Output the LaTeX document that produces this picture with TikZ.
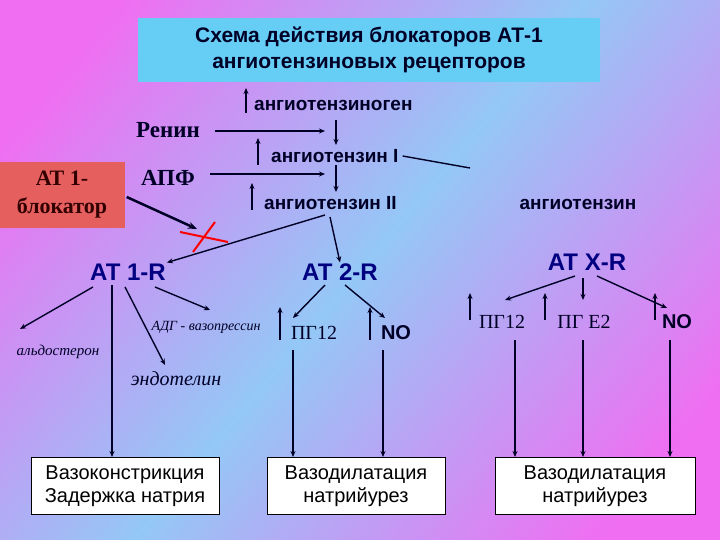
\documentclass[tikz,border=0pt]{standalone}
\usepackage{fontspec}
\setmainfont{Liberation Serif}
\setsansfont{Liberation Sans}
\usetikzlibrary{arrows.meta}
\definecolor{bgp}{HTML}{F06EF2}
\definecolor{bgb}{HTML}{94C8F6}
\pgfdeclareverticalshading{bgsh}{100bp}{color(0bp)=(bgp); color(22bp)=(bgp); color(50bp)=(bgb); color(78bp)=(bgp); color(100bp)=(bgp)}
\begin{document}
\begin{tikzpicture}[x=1pt,y=-1pt,
  ar/.style={-{Stealth[length=6pt,width=5pt]},line width=1.4pt,draw=black!85!blue},
  ln/.style={line width=1.4pt,draw=black!85!blue},
  lab/.style={font=\sffamily\bfseries\fontsize{19}{21}\selectfont,text=black!85!blue,inner sep=1pt},
  rec/.style={font=\sffamily\bfseries\fontsize{24}{26}\selectfont,text=blue!50!black,inner sep=1pt},
  ser/.style={font=\rmfamily\bfseries\fontsize{23}{25}\selectfont,text=black!85!blue,inner sep=1pt},
  ita/.style={font=\rmfamily\itshape\fontsize{15}{17}\selectfont,text=black!85!blue,inner sep=1pt},
  res/.style={draw=black,fill=white,minimum width=188,minimum height=57,align=center,font=\sffamily\fontsize{20}{23}\selectfont}]
\useasboundingbox (0,0) rectangle (720,540);
\shade[shading=bgsh,shading angle=50] (0,0) rectangle (720,540);
\node[fill=cyan!60!white,minimum width=462,minimum height=64,align=center,font=\sffamily\bfseries\fontsize{21}{26}\selectfont,text=black!85!blue] (title) at (369,50) {Схема действия блокаторов АТ-1\\ангиотензиновых рецепторов};
\node[lab,anchor=west] (agen) at (253,105) {ангиотензиноген};
\node[lab,anchor=west] (a1) at (270,156) {ангиотензин I};
\node[lab,anchor=west] (a2) at (263,203) {ангиотензин II};
\node[lab] (ang) at (578,204) {ангиотензин};
\node[ser] (renin) at (168,130) {Ренин};
\node[ser] (apf) at (168,178) {АПФ};
\node[fill=red!45!pink!90!black,minimum width=125,minimum height=66,align=center,font=\rmfamily\bfseries\fontsize{22}{28}\selectfont,text=black!80!red] (blk) at (62,195) {АТ 1-\\блокатор};
\node[rec] (r1) at (128,272) {AT 1-R};
\node[rec] (r2) at (340,272) {AT 2-R};
\node[rec] (rx) at (587,262) {AT X-R};
\coordinate (u1a) at (246,113); \coordinate (u1b) at (246,88);
\draw[ar] (u1a) -- (u1b);
\coordinate (ra) at (215,131); \coordinate (rb) at (325,131);
\draw[ar] (ra) -- (rb);
\coordinate (d1a) at (336,120); \coordinate (d1b) at (336,145);
\draw[ar] (d1a) -- (d1b);
\coordinate (u2a) at (258,165); \coordinate (u2b) at (258,138);
\draw[ar] (u2a) -- (u2b);
\coordinate (l1) at (470,168);
\draw[ln] (a1.east) ++(3,0) -- (l1);
\coordinate (pa) at (210,174); \coordinate (pb) at (325,174);
\draw[ar] (pa) -- (pb);
\coordinate (d2a) at (336,165); \coordinate (d2b) at (336,192);
\draw[ar] (d2a) -- (d2b);
\coordinate (u3a) at (252,210); \coordinate (u3b) at (252,183);
\draw[ar] (u3a) -- (u3b);
\coordinate (bx) at (197,229);
\draw[-{Stealth[length=9pt,width=7pt]},line width=2.5pt,draw=black!85!blue] (blk.east) ++(2,2) -- (bx);
\coordinate (a2s) at (325,215);
\draw[ar] (a2s) -- (r1.north east);
\coordinate (x1) at (180,232); \coordinate (x2) at (228,242);
\coordinate (x3) at (193,252); \coordinate (x4) at (215,222);
\draw[red,line width=2pt] (x1) -- (x2) (x3) -- (x4);
\coordinate (d3a) at (330,217);
\draw[ar] (d3a) -- (r2.north);
\node[ita] (ald) at (58,352) {альдостерон};
\node[ita,font=\rmfamily\itshape\fontsize{14}{16}\selectfont] (adg) at (206,327) {АДГ - вазопрессин};
\node[ita,font=\rmfamily\itshape\fontsize{20}{22}\selectfont] (endo) at (176,379) {эндотелин};
\coordinate (e1) at (20,329); \coordinate (e2) at (165,365); \coordinate (e3) at (210,310);
\draw[ar] (93,287) -- (e1);
\draw[ar] (125,287) -- (e2);
\draw[ar] (155,287) -- (e3);
\node[ser,font=\rmfamily\fontsize{20}{22}\selectfont] (pg1) at (314,333) {ПГ12};
\node[lab,font=\sffamily\bfseries\fontsize{20}{22}\selectfont] (no1) at (396,333) {NO};
\draw[ar] (280,340) -- (280,307);
\draw[ar] (370,340) -- (370,307);
\draw[ar] (325,285) -- (293,318);
\draw[ar] (345,285) -- (385,318);
\node[ser,font=\rmfamily\fontsize{20}{22}\selectfont] (pg2) at (502,322) {ПГ12};
\node[ser,font=\rmfamily\fontsize{20}{22}\selectfont] (pg3) at (584,322) {ПГ Е2};
\node[lab,font=\sffamily\bfseries\fontsize{20}{22}\selectfont] (no2) at (677,322) {NO};
\draw[ar] (470,320) -- (470,293);
\draw[ar] (545,320) -- (545,293);
\draw[ar] (655,320) -- (655,293);
\draw[ar] (575,276) -- (505,300);
\draw[ar] (583,278) -- (583,300);
\draw[ar] (597,276) -- (667,308);
\node[res] (b1) at (125,486) {Вазоконстрикция\\Задержка натрия};
\node[res,minimum width=178] (b2) at (356,486) {Вазодилатация\\натрийурез};
\node[res,minimum width=200] (b3) at (595,486) {Вазодилатация\\натрийурез};
\draw[ar] (112,285) -- (112,457);
\draw[ar] (293,350) -- (293,457);
\draw[ar] (383,350) -- (383,457);
\draw[ar] (515,340) -- (515,457);
\draw[ar] (583,340) -- (583,457);
\draw[ar] (670,340) -- (670,457);
\end{tikzpicture}
\end{document}
